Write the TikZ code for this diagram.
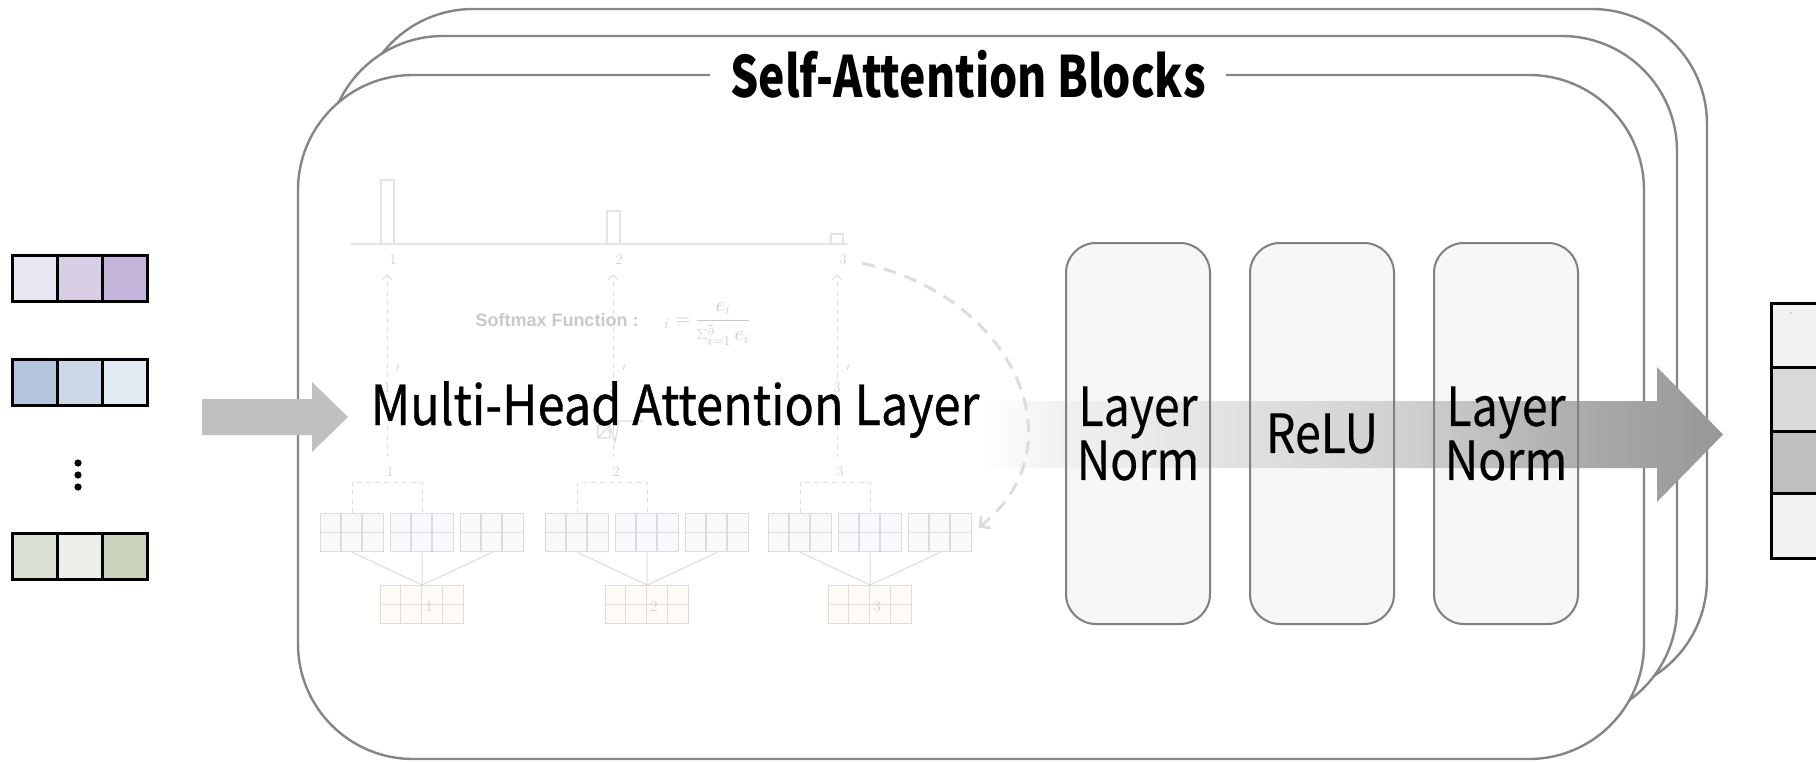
\documentclass[tikz,border=0pt]{standalone}
\usepackage[no-math]{fontspec}
\usepackage{graphicx}
\newfontfamily\kr{Noto Sans CJK KR}
\newfontfamily\krmed[FakeBold=0.7]{Noto Sans CJK KR}
\newfontfamily\krstage[FakeBold=0.3]{Noto Sans CJK KR}
\newfontfamily\labelsans{Liberation Sans}
\usetikzlibrary{arrows.meta}

% palette
\definecolor{framegray}{HTML}{858585}
\definecolor{boxedge}{HTML}{808080}
\definecolor{boxfill}{HTML}{F7F7F7}
\definecolor{inarrow}{HTML}{C0C0C0}
\definecolor{faintline}{HTML}{E4E4E4}
\definecolor{faintdash}{HTML}{DDDDDD}
\definecolor{fainttext}{HTML}{C9C9C9}
\definecolor{gridedge}{HTML}{DCDCDC}
\definecolor{qfill}{HTML}{FBF8FA}
\definecolor{kfill}{HTML}{F8F9FD}
\definecolor{vfill}{HTML}{FAFAF8}
\definecolor{zfill}{HTML}{FDFBF3}
\definecolor{pA}{HTML}{E8E6F1}\definecolor{pB}{HTML}{D8CEE6}\definecolor{pC}{HTML}{C5B5DA}
\definecolor{bA}{HTML}{B3C6DD}\definecolor{bB}{HTML}{CCD8E8}\definecolor{bC}{HTML}{E3EAF3}
\definecolor{gA}{HTML}{DAE1D4}\definecolor{gB}{HTML}{ECEFE9}\definecolor{gC}{HTML}{CAD4BF}
\definecolor{oA}{HTML}{F2F2F2}\definecolor{oB}{HTML}{D9D9D9}\definecolor{oC}{HTML}{BFBFBF}
\definecolor{flowA}{HTML}{F0F0F0}\definecolor{flowB}{HTML}{E2E2E2}
\definecolor{flowC}{HTML}{CFCFCF}\definecolor{flowD}{HTML}{A8A8A8}
\definecolor{flowE}{HTML}{979797}

% the middle 50bp of a 100bp shading spans the path
\pgfdeclarehorizontalshading{flowshade}{100bp}{color(0bp)=(white); color(25bp)=(white);
  color(30.6bp)=(flowA); color(41.7bp)=(flowB); color(54.1bp)=(flowC);
  color(66.7bp)=(flowD); color(75bp)=(flowE); color(100bp)=(flowE)}

\pgfdeclarelayer{blocks}
\pgfdeclarelayer{flow}
\pgfsetlayers{blocks,flow,main}

\newcommand\stagefont{\krstage\fontsize{54}{54}\selectfont}
\newcommand\narrowtxt[1]{\scalebox{0.86}[1]{#1}}

% 3x2 and 4x2 faint matrices
\newcommand\smallgrid[4]{%
  \node[gridbox, fill=#4, minimum width=63pt, anchor=north west] (#1) at (#2,#3) {};
  \draw[gridrule] ([xshift=21pt]#1.north west) -- ([xshift=21pt]#1.south west)
                  ([xshift=42pt]#1.north west) -- ([xshift=42pt]#1.south west)
                  (#1.west) -- (#1.east);}
\newcommand\biggrid[4]{%
  \node[gridbox, fill=#4, minimum width=83pt, anchor=north west] (#1) at (#2,#3) {};
  \draw[gridrule] ([xshift=20.75pt]#1.north west) -- ([xshift=20.75pt]#1.south west)
                  ([xshift=41.5pt]#1.north west) -- ([xshift=41.5pt]#1.south west)
                  ([xshift=62.25pt]#1.north west) -- ([xshift=62.25pt]#1.south west)
                  (#1.west) -- (#1.east);}

\begin{document}
\begin{tikzpicture}[x=1pt,y=-1pt,
  blockframe/.style={draw=framegray, line width=2.4pt, fill=white, rounded corners=115pt, inner sep=0pt},
  stagebox/.style={draw=boxedge, line width=2pt, rounded corners=30pt, minimum width=144pt,
    minimum height=381pt, inner sep=0pt, align=center, font=\stagefont},
  vcell/.style={draw=black, line width=3pt, minimum width=44.7pt, minimum height=46pt, inner sep=0pt},
  ocell/.style={draw=black, line width=3pt, minimum width=100pt, inner sep=0pt, anchor=north west},
  gridbox/.style={draw=gridedge, line width=1.4pt, minimum height=38pt, inner sep=0pt},
  gridrule/.style={draw=gridedge, line width=1.2pt},
  faintnum/.style={text=fainttext, font=\fontsize{15}{15}\selectfont, inner sep=0pt},
  faintthin/.style={draw=faintdash, line width=1pt, dash pattern=on 5pt off 4pt},
  faintarc/.style={draw=faintdash, line width=3pt, dash pattern=on 13pt off 9pt}]
\useasboundingbox (0,0) rectangle (1816,761);

% ---- stage boxes inside the block
\node[stagebox] (ln1) at (1138,433.5) {\narrowtxt{Layer}\\\narrowtxt{Norm}};
\node[stagebox] (relu) at (1322,433.5) {\narrowtxt{ReLU}};
\node[stagebox] (ln2) at (1506,433.5) {\narrowtxt{Layer}\\\narrowtxt{Norm}};

% ---- stacked block frames (back to front) and box fills
\begin{pgfonlayer}{blocks}
  \node[blockframe, minimum width=1349pt, minimum height=685pt] (backblock) at (1032.5,351.5) {};
  \node[blockframe, minimum width=1349pt, minimum height=686pt] (midblock) at (1002.5,379) {};
  \node[blockframe, minimum width=1346pt, minimum height=684pt] (front) at (971,417) {};
  \foreach \b in {ln1,relu,ln2}
    \fill[boxfill, rounded corners=30pt] (\b.north west) rectangle (\b.south east);
\end{pgfonlayer}

\node[fill=white, inner xsep=20pt, inner ysep=2pt, font=\kr\bfseries\fontsize{57}{57}\selectfont]
  (title) at (968,74) {\scalebox{0.78}[1]{Self-Attention Blocks}};

% ---- block arrows
\coordinate (inS) at (202,417);
\coordinate (inT) at (348,417);
\coordinate (flowS) at (983,434.5);
\coordinate (flowT) at (1723,434.5);
\begin{pgfonlayer}{flow}
  \fill[inarrow] (inS) ++(0,-18) -- ++(110,0) -- ++(0,-17) -- (inT) -- ++(-36,35)
    -- ++(0,-17) -- ++(-110,0) -- cycle;
  \shade[shading=flowshade] (flowS) ++(0,-33.5) -- ++(674,0) -- ++(0,-34) -- (flowT)
    -- ++(-66,67.5) -- ++(0,-34) -- ++(-674,0) -- cycle;
\end{pgfonlayer}

% ---- faded attention sketch: score bars
\draw[faintline, line width=2pt] (351,244) -- (848,244);
\draw[faintline, line width=2pt] (381,244) rectangle (394,180)
  (607,244) rectangle (620,211) (831,244) rectangle (843,234);

\foreach \i/\x in {1/387,2/613,3/837}{
  \node[faintnum] (top\i) at (\x+6,260) {\i};
  \node[faintnum] (pr\i) at (\x,388) {\i};
  \node[faintnum] (prm\i) at (\x+11,371) {$'$};
  \node[faintnum] (low\i) at (\x+3,472) {\i};
  \draw[faintthin, -{Straight Barb[length=5pt,width=10pt]}, shorten >=9pt, shorten <=6pt]
    (pr\i.north) -- (pr\i.north |- top\i.south);
  \draw[faintthin, shorten <=6pt, shorten >=10pt] (pr\i.south) -- (pr\i.south |- low\i.north);
}

\node[text=fainttext, font=\labelsans\bfseries\fontsize{18}{18}\selectfont, inner sep=0pt]
  (softmax) at (557,320) {Softmax Function :};
\node[text=fainttext, font=\fontsize{20}{20}\selectfont, inner sep=0pt, anchor=west]
  (formula) at (664,324) {$\displaystyle {}_i = \frac{e_i}{\sum_{i=1}^{5} e_i}$};

% scaling glyph fragment
\draw[gridrule] (598,425) rectangle (610,438) (598,438) -- (610,425);
\draw[gridrule] (608,431) -- (611,429) -- (615,442) -- (619,421) -- (643,421);

% ---- faint matrices
\foreach \g/\dx in {1/0,2/225,3/448}{
  \smallgrid{qa\g}{320+\dx}{513}{qfill}
  \smallgrid{qb\g}{390+\dx}{513}{kfill}
  \smallgrid{qc\g}{460+\dx}{513}{vfill}
  \biggrid{z\g}{380+\dx}{585}{zfill}
  \node[faintnum] (zl\g) at (429+\dx,607) {\g};
  \draw[faintthin] (qa\g.north) -- ++(0,-31) -| (qb\g.north);
  \draw[gridrule, line width=1pt] (qa\g.south) -- (z\g.north) (qb\g.south) -- (z\g.north)
    (qc\g.south) -- (z\g.north);
}

\draw[faintarc, -{Straight Barb[length=7pt,width=15pt]}, shorten <=16pt, shorten >=8pt]
  (top3.east) .. controls (1012,295) and (1082,445) .. (qc3.east);

% ---- layer title
\node[font=\krmed\fontsize{55}{55}\selectfont, anchor=base, inner sep=0pt] (mha) at (675,425)
  {\scalebox{0.885}[1]{Multi-Head Attention Layer}};

% ---- input token vectors
\foreach \r/\y/\ca/\cb/\cc in {1/278/pA/pB/pC, 2/382.5/bA/bB/bC, 3/556/gA/gB/gC}{
  \node[vcell, fill=\ca] (in\r a) at (35.3,\y) {};
  \node[vcell, fill=\cb] (in\r b) at (80,\y) {};
  \node[vcell, fill=\cc] (in\r c) at (124.7,\y) {};
}
\foreach \yy in {463,475,487} \fill (78,\yy) circle (3.6pt);

% ---- output vector
\node[ocell, fill=oA, minimum height=64pt] (out1) at (1770,302) {};
\node[ocell, fill=oB, minimum height=64pt] (out2) at (1770,366) {};
\node[ocell, fill=oC, minimum height=62pt] (out3) at (1770,430) {};
\node[ocell, fill=oA, minimum height=65pt] (out4) at (1770,492) {};
\fill[gray!60] (1791,313) circle (0.8pt);
\end{tikzpicture}
\end{document}
